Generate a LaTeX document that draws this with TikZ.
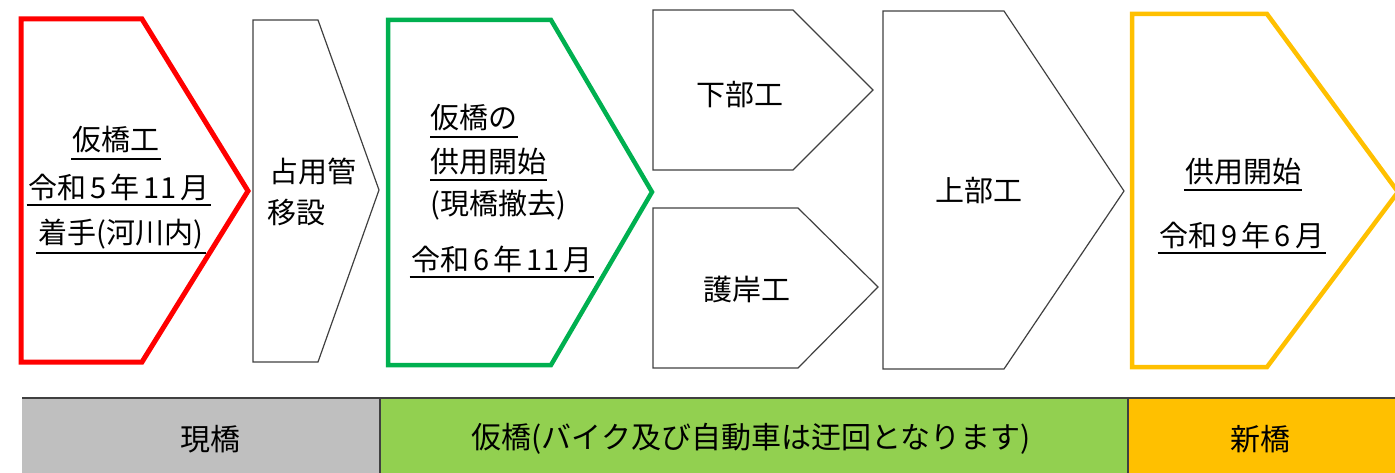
\documentclass[tikz,border=0pt]{standalone}
\usepackage{fontspec}
\setmainfont{Noto Sans CJK JP}
\usetikzlibrary{positioning}
\definecolor{StartRed}{HTML}{FF0000}
\definecolor{OpenGreen}{HTML}{00B050}
\definecolor{NewYellow}{HTML}{FFC000}
\definecolor{BandGray}{HTML}{BFBFBF}
\definecolor{BandGreen}{HTML}{92D050}
\definecolor{BandOrange}{HTML}{FFC000}
\definecolor{EdgeGray}{HTML}{404040}
\newcommand{\jgap}{\hspace{4pt}}

\tikzset{
  plain/.style={draw=EdgeGray, line width=1.2pt, line join=miter},
  bold/.style={line width=4.5pt, line join=miter},
  lbl/.style={inner sep=0pt, font=\fontsize{29}{34}\selectfont},
  bandlbl/.style={inner sep=0pt, font=\fontsize{30}{36}\selectfont},
  uline/.style={line width=1.8pt},
}

\begin{document}
\begin{tikzpicture}[x=1pt,y=-1pt]
    \useasboundingbox (0,0) rectangle (1395,473);

    % steps
    \draw[bold, draw=StartRed, line width=5pt] (21,19) -- (142,19) -- (248,191) -- (142,362) -- (21,362) -- cycle;
    \draw[plain] (253,20) -- (318,20) -- (379,190) -- (318,362) -- (253,362) -- cycle;
    \draw[bold, draw=OpenGreen] (388,20) -- (551,20) -- (652,192) -- (551,365) -- (388,365) -- cycle;
    \draw[plain] (653,10) -- (793,10) -- (873,90) -- (793,170) -- (653,170) -- cycle;
    \draw[plain] (653,208) -- (798,208) -- (878,287) -- (798,368) -- (653,368) -- cycle;
    \draw[plain] (883,11) -- (1004,11) -- (1124,191) -- (1004,369) -- (883,369) -- cycle;
    \draw[bold, draw=NewYellow] (1132,14) -- (1267,14) -- (1398,192) -- (1267,367) -- (1132,367) -- cycle;

    % texts
    \node[lbl] (kari) at (116,140) {仮橋工};
    \node[lbl] (start) at (119,187) {令和\jgap 5\jgap 年\jgap 11\jgap 月};
    \node[lbl] (river) at (121,234) {着手(河川内)};
    \draw[uline] ([xshift=-1pt]kari.west |- 0,159) -- ([xshift=1pt]kari.east |- 0,159);
    \draw[uline] ([xshift=-2pt]start.west |- 0,205) -- ([xshift=2pt]start.east |- 0,205);
    \draw[uline] ([xshift=-2pt]river.west |- 0,253) -- ([xshift=2pt]river.east |- 0,253);

    \node[lbl, anchor=west] (pipe) at (269,171) {占用管};
    \node[lbl, anchor=west] (move) at (267,212) {移設};

    \node[lbl, anchor=west] (karino) at (430,118) {仮橋の};
    \node[lbl, anchor=west] (kyoyo) at (430,162) {供用開始};
    \node[lbl, anchor=west] (tekkyo) at (430,205) {(現橋撤去)};
    \node[lbl] (open) at (502,259) {令和\jgap 6\jgap 年\jgap 11\jgap 月};
    \draw[uline] (karino.west |- 0,137) -- ([xshift=1pt]karino.east |- 0,137);
    \draw[uline] (kyoyo.west |- 0,180) -- ([xshift=1pt]kyoyo.east |- 0,180);
    \draw[uline] ([xshift=-2pt]open.west |- 0,277) -- ([xshift=2pt]open.east |- 0,277);

    \node[lbl] (kabu) at (740,95) {下部工};
    \node[lbl] (gogan) at (747,289) {護岸工};
    \node[lbl] (jobu) at (979,191) {上部工};

    \node[lbl] (kyoyo2) at (1243,172) {供用開始};
    \node[lbl] (finish) at (1242,235) {令和\jgap 9\jgap 年\jgap 6\jgap 月};
    \draw[uline] ([xshift=-1pt]kyoyo2.west |- 0,190) -- ([xshift=1pt]kyoyo2.east |- 0,190);
    \draw[uline] ([xshift=-2pt]finish.west |- 0,253) -- ([xshift=2pt]finish.east |- 0,253);

    % band
    \fill[BandGray] (22,398) rectangle (380,480);
    \fill[BandGreen] (380,398) rectangle (1128,480);
    \fill[BandOrange] (1128,398) rectangle (1400,480);
    \draw[draw=EdgeGray, line width=2pt] (22,398) -- (1400,398);
    \draw[plain] (380,398) -- (380,480);
    \draw[plain] (1128,398) -- (1128,480);

    \node[bandlbl] (old) at (210,439) {現橋};
    \node[bandlbl] (temp) at (751,439) {仮橋(バイク及び自動車は迂回となります)};
    \node[bandlbl] (new) at (1260,439) {新橋};
\end{tikzpicture}
\end{document}
